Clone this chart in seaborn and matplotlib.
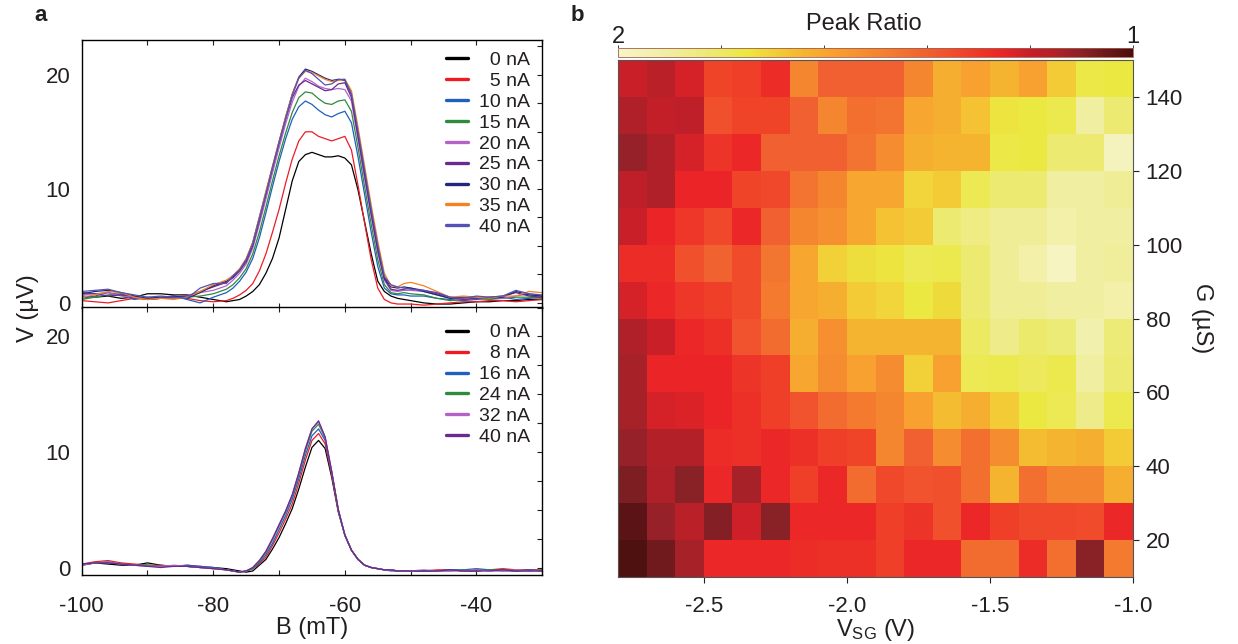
import numpy as np
import pandas as pd
import matplotlib
matplotlib.use('Agg')
import matplotlib.pyplot as plt
from matplotlib.colors import LinearSegmentedColormap
from matplotlib.ticker import MultipleLocator
import seaborn as sns

# ---------------- data ----------------
# magnetic field grid (mT)
B = [-100, -98, -96, -94, -92, -90, -88, -86, -84, -82, -80,
     -78, -77, -76, -75, -74, -73, -72, -71, -70, -69, -68, -67, -66, -65,
     -64, -63, -62, -61, -60, -59, -58, -57, -56, -55, -54, -53, -52, -51, -50,
     -48, -46, -44, -42, -40, -38, -36, -34, -32, -30]

# panel a, top: V (uV) for each current
top_labels = ['\u20070 nA', '\u20075 nA', '10 nA', '15 nA', '20 nA', '25 nA', '30 nA', '35 nA', '40 nA']
top_colors = ['#000000', '#ed1c24', '#1f5fbf', '#2e8b3c', '#b462c8', '#6a2a8e', '#23297a', '#f58220', '#5552b4']
top_0 = [0.6, 0.5, 0.6, 0.4, 0.5, 0.8, 0.8, 0.7, 0.7, 0.5, 0.3,
         0.1, 0.2, 0.3, 0.6, 1.0, 1.6, 2.6, 3.9, 5.7, 8.2, 10.7, 12.4, 13.0, 13.2,
         13.0, 12.8, 12.8, 12.9, 12.7, 12.1, 9.9, 7.1, 4.3, 1.9, 1.0, 0.6, 0.4, 0.3, 0.2,
         0.0, -0.1, -0.1, 0.0, 0.1, 0.1, 0.2, 0.2, 0.3, 0.3]
top_5 = [0.2, 0.1, 0.0, 0.2, 0.4, 0.3, 0.4, 0.5, 0.4, 0.2, 0.1,
         0.2, 0.4, 0.7, 1.1, 1.7, 2.8, 4.3, 6.2, 8.2, 10.5, 12.6, 14.2, 15.0, 15.0,
         14.6, 14.4, 14.2, 14.4, 14.6, 13.4, 10.3, 7.0, 3.8, 1.3, 0.3, 0.0, -0.1, -0.1, -0.1,
         -0.2, -0.1, 0.0, 0.1, 0.1, 0.2, 0.2, 0.1, 0.2, 0.3]
top_10 = [0.4, 0.6, 0.9, 0.7, 0.3, 0.5, 0.4, 0.6, 0.3, 0.0, 0.5,
          0.9, 1.3, 1.9, 2.7, 3.9, 5.7, 7.9, 10.2, 12.4, 14.4, 16.1, 17.2, 17.7, 17.4,
          16.9, 16.5, 16.3, 16.6, 16.8, 15.8, 12.8, 9.5, 6.2, 3.2, 1.3, 0.8, 0.7, 0.7, 0.6,
          0.6, 0.4, 0.3, 0.2, 0.3, 0.4, 0.5, 0.3, 0.4, 0.5]
top_15 = [0.3, 0.5, 0.7, 0.8, 0.5, 0.3, 0.4, 0.4, 0.5, 0.6, 0.8,
          1.2, 1.6, 2.2, 3.0, 4.3, 6.2, 8.4, 10.7, 12.9, 14.9, 16.7, 18.0, 18.5, 18.4,
          17.9, 17.5, 17.4, 17.7, 17.8, 16.8, 13.6, 10.2, 6.9, 3.8, 1.6, 0.9, 0.8, 0.9, 0.8,
          0.7, 0.4, 0.2, 0.3, 0.4, 0.3, 0.4, 0.5, 0.5, 0.4]
top_20 = [0.7, 0.8, 0.9, 0.6, 0.5, 0.4, 0.5, 0.4, 0.6, 0.9, 1.1,
          1.5, 2.0, 2.6, 3.4, 4.8, 6.9, 9.1, 11.4, 13.6, 15.7, 17.6, 19.0, 19.7, 19.4,
          19.0, 18.8, 18.7, 18.8, 18.7, 17.7, 14.3, 10.9, 7.6, 4.4, 2.0, 1.1, 1.0, 1.1, 1.1,
          1.0, 0.7, 0.4, 0.3, 0.4, 0.5, 0.4, 0.6, 0.8, 0.6]
top_25 = [0.9, 0.8, 0.6, 0.7, 0.6, 0.3, 0.4, 0.5, 0.6, 1.0, 1.4,
          1.8, 2.2, 2.8, 3.6, 5.0, 7.2, 9.5, 11.8, 14.0, 16.1, 18.0, 19.1, 19.5, 19.2,
          18.9, 18.6, 18.7, 19.2, 19.3, 18.0, 14.6, 11.2, 7.8, 4.6, 2.1, 1.2, 1.1, 1.2, 1.3,
          1.1, 0.8, 0.5, 0.3, 0.4, 0.5, 0.6, 0.9, 0.6, 0.5]
top_30 = [0.8, 1.0, 1.1, 0.9, 0.6, 0.4, 0.5, 0.6, 0.4, 0.9, 1.5,
          1.9, 2.3, 2.9, 3.8, 5.3, 7.5, 9.7, 11.9, 14.1, 16.3, 18.3, 19.8, 20.5, 20.3,
          20.0, 19.7, 19.5, 19.6, 19.5, 18.3, 14.9, 11.5, 8.1, 4.9, 2.2, 1.4, 1.3, 1.4, 1.3,
          1.0, 0.7, 0.4, 0.5, 0.5, 0.4, 0.5, 1.0, 0.7, 0.6]
top_35 = [0.5, 0.7, 1.0, 0.9, 0.5, 0.3, 0.4, 0.3, 0.5, 1.0, 1.6,
          2.0, 2.4, 3.0, 3.9, 5.3, 7.5, 9.8, 12.0, 14.2, 16.3, 18.3, 19.7, 20.3, 20.2,
          19.9, 19.6, 19.4, 19.5, 19.6, 18.6, 15.4, 12.0, 8.6, 5.4, 2.6, 1.5, 1.4, 1.7, 1.8,
          1.5, 1.0, 0.5, 0.6, 0.5, 0.4, 0.6, 0.6, 1.0, 0.9]
top_40 = [1.0, 1.1, 1.2, 0.9, 0.7, 0.5, 0.6, 0.5, 0.4, 1.3, 1.7,
          1.7, 2.4, 2.9, 3.8, 5.2, 7.4, 9.6, 11.9, 14.1, 16.2, 18.2, 19.7, 20.4, 20.1,
          19.6, 19.1, 19.2, 19.6, 19.6, 18.3, 15.0, 11.6, 8.2, 5.0, 2.3, 1.6, 1.4, 1.3, 1.2,
          1.1, 0.9, 0.5, 0.4, 0.6, 0.5, 0.6, 1.1, 0.8, 0.7]
top_curves = [top_0, top_5, top_10, top_15, top_20, top_25, top_30, top_35, top_40]

# panel a, bottom
bot_labels = ['\u20070 nA', '\u20078 nA', '16 nA', '24 nA', '32 nA', '40 nA']
bot_colors = ['#000000', '#ed1c24', '#1f5fbf', '#2e8b3c', '#b462c8', '#6a2a8e']
bot_0 = [0.2, 0.4, 0.3, 0.2, 0.2, 0.4, 0.2, 0.1, 0.1, 0.0, 0.0,
         -0.1, -0.2, -0.3, -0.4, -0.3, 0.2, 0.7, 1.6, 2.6, 3.8, 5.1, 6.8, 8.7, 10.4,
         11.0, 10.3, 7.8, 4.8, 2.8, 1.5, 0.7, 0.2, 0.0, -0.1, -0.2, -0.2, -0.3, -0.3, -0.3,
         -0.3, -0.3, -0.2, -0.3, -0.3, -0.2, -0.2, -0.3, -0.2, -0.3]
bot_8 = [0.3, 0.5, 0.6, 0.4, 0.3, 0.2, 0.2, 0.1, 0.2, 0.1, 0.0,
         -0.2, -0.3, -0.4, -0.3, -0.1, 0.3, 0.9, 1.9, 3.0, 4.2, 5.5, 7.3, 9.3, 11.0,
         11.6, 10.7, 8.0, 4.9, 2.8, 1.5, 0.7, 0.2, 0.0, -0.1, -0.2, -0.2, -0.3, -0.3, -0.3,
         -0.3, -0.2, -0.2, -0.3, -0.2, -0.2, -0.1, -0.2, -0.2, -0.2]
bot_16 = [0.2, 0.4, 0.4, 0.3, 0.2, 0.2, 0.1, 0.1, 0.2, 0.1, 0.0,
          -0.2, -0.3, -0.4, -0.3, -0.1, 0.4, 1.1, 2.1, 3.3, 4.5, 5.9, 7.7, 9.7, 11.4,
          12.0, 11.0, 8.2, 5.0, 2.8, 1.5, 0.7, 0.2, 0.0, -0.1, -0.2, -0.3, -0.3, -0.3, -0.3,
          -0.3, -0.3, -0.2, -0.2, -0.1, -0.2, -0.3, -0.3, -0.2, -0.3]
bot_24 = [0.3, 0.4, 0.5, 0.3, 0.2, 0.2, 0.1, 0.1, 0.1, 0.0, -0.1,
          -0.2, -0.3, -0.4, -0.3, -0.1, 0.5, 1.3, 2.4, 3.6, 4.8, 6.2, 8.0, 10.1, 11.8,
          12.4, 11.2, 8.3, 5.0, 2.8, 1.5, 0.7, 0.2, 0.0, -0.1, -0.2, -0.2, -0.3, -0.3, -0.3,
          -0.3, -0.3, -0.3, -0.2, -0.3, -0.2, -0.2, -0.3, -0.3, -0.2]
bot_32 = [0.2, 0.4, 0.5, 0.3, 0.2, 0.1, 0.1, 0.2, 0.1, 0.0, -0.1,
          -0.2, -0.3, -0.4, -0.3, 0.0, 0.6, 1.4, 2.5, 3.7, 4.9, 6.3, 8.2, 10.3, 12.0,
          12.6, 11.3, 8.3, 5.0, 2.8, 1.5, 0.7, 0.2, 0.0, -0.1, -0.2, -0.2, -0.3, -0.3, -0.3,
          -0.2, -0.3, -0.3, -0.3, -0.2, -0.3, -0.3, -0.2, -0.3, -0.3]
bot_40 = [0.3, 0.4, 0.4, 0.3, 0.2, 0.1, 0.0, 0.1, 0.1, 0.0, -0.1,
          -0.2, -0.3, -0.4, -0.3, 0.0, 0.6, 1.4, 2.5, 3.7, 4.9, 6.3, 8.2, 10.3, 12.0,
          12.7, 11.3, 8.3, 5.0, 2.8, 1.5, 0.7, 0.2, 0.0, -0.1, -0.2, -0.2, -0.3, -0.3, -0.3,
          -0.3, -0.3, -0.2, -0.3, -0.3, -0.3, -0.2, -0.3, -0.3, -0.3]
bot_curves = [bot_0, bot_8, bot_16, bot_24, bot_32, bot_40]

# panel b: peak ratio map, rows from G = 145 (top) down to 15 uS, columns V_SG = -2.75 ... -1.05 V
vsg = [-2.75, -2.65, -2.55, -2.45, -2.35, -2.25, -2.15, -2.05, -1.95,
       -1.85, -1.75, -1.65, -1.55, -1.45, -1.35, -1.25, -1.15, -1.05]
g_vals = [145, 135, 125, 115, 105, 95, 85, 75, 65, 55, 45, 35, 25, 15]
ratio = [
    [1.20, 1.17, 1.22, 1.33, 1.32, 1.27, 1.50, 1.40, 1.40, 1.40, 1.50, 1.62, 1.58, 1.64, 1.58, 1.69, 1.76, 1.75],
    [1.15, 1.19, 1.18, 1.36, 1.33, 1.33, 1.40, 1.50, 1.44, 1.45, 1.60, 1.62, 1.67, 1.74, 1.75, 1.77, 1.90, 1.82],
    [1.12, 1.15, 1.22, 1.29, 1.26, 1.40, 1.40, 1.40, 1.45, 1.52, 1.62, 1.64, 1.64, 1.76, 1.75, 1.82, 1.82, 1.97],
    [1.18, 1.15, 1.25, 1.25, 1.33, 1.34, 1.45, 1.50, 1.60, 1.60, 1.71, 1.69, 1.78, 1.82, 1.82, 1.90, 1.90, 1.88],
    [1.20, 1.25, 1.30, 1.34, 1.26, 1.40, 1.50, 1.53, 1.60, 1.67, 1.69, 1.82, 1.85, 1.88, 1.88, 1.92, 1.90, 1.90],
    [1.27, 1.27, 1.36, 1.41, 1.35, 1.46, 1.60, 1.70, 1.73, 1.74, 1.78, 1.77, 1.82, 1.88, 1.92, 1.98, 1.90, 1.89],
    [1.22, 1.26, 1.30, 1.32, 1.35, 1.47, 1.60, 1.62, 1.69, 1.71, 1.75, 1.72, 1.82, 1.88, 1.88, 1.90, 1.90, 1.92],
    [1.15, 1.20, 1.26, 1.28, 1.37, 1.43, 1.62, 1.53, 1.64, 1.64, 1.64, 1.64, 1.80, 1.86, 1.81, 1.83, 1.93, 1.83],
    [1.14, 1.25, 1.25, 1.25, 1.29, 1.32, 1.60, 1.52, 1.58, 1.52, 1.70, 1.58, 1.78, 1.77, 1.79, 1.77, 1.90, 1.82],
    [1.14, 1.22, 1.23, 1.25, 1.28, 1.32, 1.37, 1.43, 1.47, 1.50, 1.58, 1.66, 1.62, 1.69, 1.75, 1.78, 1.86, 1.77],
    [1.12, 1.16, 1.16, 1.27, 1.28, 1.26, 1.28, 1.32, 1.33, 1.50, 1.40, 1.52, 1.44, 1.52, 1.66, 1.64, 1.62, 1.69],
    [1.08, 1.15, 1.10, 1.26, 1.14, 1.26, 1.32, 1.26, 1.43, 1.34, 1.37, 1.36, 1.44, 1.64, 1.44, 1.50, 1.50, 1.62],
    [1.03, 1.12, 1.17, 1.09, 1.21, 1.10, 1.26, 1.26, 1.26, 1.32, 1.29, 1.36, 1.26, 1.32, 1.34, 1.34, 1.35, 1.26],
    [1.01, 1.06, 1.14, 1.26, 1.26, 1.26, 1.27, 1.28, 1.28, 1.32, 1.26, 1.26, 1.43, 1.43, 1.27, 1.44, 1.10, 1.47],
]

# ---------------- style ----------------
sns.set_style('white')
plt.rcParams['font.family'] = ['Liberation Sans', 'DejaVu Sans']
plt.rcParams['mathtext.fontset'] = 'custom'
plt.rcParams['mathtext.rm'] = 'Liberation Sans'
plt.rcParams['mathtext.it'] = 'Liberation Sans:italic'
plt.rcParams['axes.unicode_minus'] = False
txt = '#231f20'
plt.rcParams['text.color'] = txt
plt.rcParams['axes.labelcolor'] = txt
plt.rcParams['xtick.color'] = txt
plt.rcParams['ytick.color'] = txt

fig = plt.figure(figsize=(12.38, 6.44), dpi=100)
ax_top = fig.add_axes([0.066, 0.5217, 0.372, 0.4162])
ax_bot = fig.add_axes([0.066, 0.1071, 0.372, 0.4162])
ax_map = fig.add_axes([0.4992, 0.104, 0.416, 0.8028])
cax = fig.add_axes([0.4992, 0.912, 0.416, 0.013])

# ---------------- panel a ----------------
for ax, curves, labels, colors, ylim, leg_y in [
        (ax_top, top_curves, top_labels, top_colors, (-0.45, 23.05), 0.958),
        (ax_bot, bot_curves, bot_labels, bot_colors, (-0.65, 22.55), 0.937)]:
    for vals, lab, col in zip(curves, labels, colors):
        sns.lineplot(x=B, y=vals, ax=ax, color=col, lw=0.9, label=lab)
    ax.set_xlim(-100, -30)
    ax.set_ylim(*ylim)
    ax.set_yticks([0, 10, 20])
    ax.yaxis.set_minor_locator(MultipleLocator(2.5))
    ax.xaxis.set_major_locator(MultipleLocator(20))
    ax.xaxis.set_minor_locator(MultipleLocator(10))
    ax.tick_params(axis='y', which='both', left=False, right=True, direction='in',
                   length=3.5, width=0.8, labelsize=16, pad=8)
    ax.tick_params(axis='x', which='both', top=True, bottom=True, direction='in',
                   length=3.5, width=0.8, labelsize=16, pad=15)
    for sp in ax.spines.values():
        sp.set_color('black')
        sp.set_linewidth(1.0)
    leg = ax.legend(loc='upper left', bbox_to_anchor=(0.792, leg_y), frameon=False,
                    fontsize=14, handlelength=1.1, handletextpad=0.55,
                    labelspacing=0.17, borderpad=0, borderaxespad=0)
    for h in leg.get_lines():
        h.set_linewidth(2.4)

ax_top.tick_params(axis='x', labelbottom=False)
ax_bot.set_xticks([-100, -80, -60, -40])
ax_bot.set_xticklabels(['-100', '-80', '-60', '-40'])
ax_bot.set_xlabel('B (mT)', fontsize=17, labelpad=0)
fig.text(0.023, 0.522, 'V (\u00b5V)', rotation=90, ha='center', va='center', fontsize=17)

# ---------------- panel b ----------------
cmap = LinearSegmentedColormap.from_list('peak', [
    (0.0, '#4a0e0e'), (0.10, '#8a2228'), (0.15, '#b02028'), (0.20, '#c81f28'),
    (0.25, '#ea2427'), (0.32, '#f04028'), (0.40, '#f06030'), (0.50, '#f58530'),
    (0.58, '#f8a030'), (0.65, '#f5b830'), (0.70, '#f2d038'), (0.75, '#ece840'),
    (0.82, '#ecea70'), (0.90, '#f0eea0'), (1.0, '#f7f5c8')])

df_map = pd.DataFrame(ratio, index=g_vals, columns=vsg)
sns.heatmap(df_map, ax=ax_map, cmap=cmap, vmin=1, vmax=2, cbar_ax=cax,
            cbar_kws={'orientation': 'horizontal'}, xticklabels=False, yticklabels=False,
            linewidths=0)

# place ticks at the physical values (cell index coordinates)
xt = [-2.5, -2.0, -1.5, -1.0]
ax_map.set_xticks([(v - vsg[0] + 0.05) / 0.1 for v in xt])
ax_map.set_xticklabels(['%.1f' % v for v in xt], rotation=0)
yt = [140, 120, 100, 80, 60, 40, 20]
ax_map.set_yticks([(g_vals[0] + 5 - g) / 10 for g in yt])
ax_map.set_yticklabels([str(g) for g in yt], rotation=0)
ax_map.yaxis.tick_right()
ax_map.yaxis.set_label_position('right')
ax_map.tick_params(axis='both', direction='out', length=4, width=0.8, labelsize=16,
                   bottom=True, right=True, left=False, top=False, pad=5)
ax_map.tick_params(axis='x', pad=10)
for sp in ax_map.spines.values():
    sp.set_visible(True)
    sp.set_color('#555555')
    sp.set_linewidth(0.8)
ax_map.set_xlabel('V$_{\\mathrm{SG}}$ (V)', fontsize=17, labelpad=0)
ax_map.set_ylabel('G (\u00b5S)', fontsize=17, rotation=270, labelpad=22)

cb = ax_map.collections[0].colorbar
cb.set_ticks([1, 1.2, 1.4, 1.6, 1.8, 2])
cb.set_ticklabels(['1', '', '', '', '', '2'])
cax.invert_xaxis()
cax.xaxis.set_ticks_position('top')
cax.tick_params(length=2.5, width=0.6, direction='out', labelsize=17, pad=-2)
cb.outline.set_linewidth(0.6)
cb.outline.set_edgecolor('#a06050')
fig.text(0.698, 0.963, 'Peak Ratio', ha='center', va='center', fontsize=17)

fig.text(0.033, 0.976, 'a', fontsize=16, fontweight='bold', ha='center', va='center')
fig.text(0.466, 0.976, 'b', fontsize=16, fontweight='bold', ha='center', va='center')

fig.savefig('out.png', dpi=100)
